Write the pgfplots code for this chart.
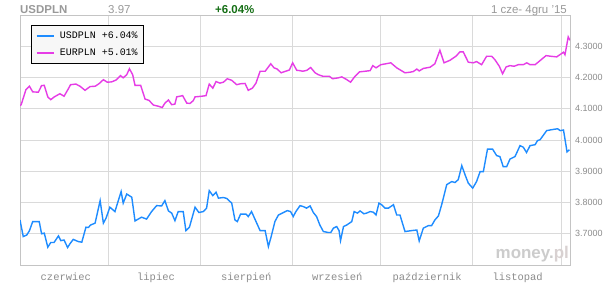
\documentclass[border=0pt]{standalone}
\usepackage{fontspec}
\setmainfont{Liberation Sans}
\newfontfamily\monofont{Liberation Mono}
\usepackage{pgfplots}
\pgfplotsset{compat=1.18}
\definecolor{usd}{RGB}{30,140,255}
\definecolor{eur}{RGB}{230,60,230}
\definecolor{gridc}{RGB}{218,218,218}
\definecolor{axc}{RGB}{196,196,196}
\definecolor{txt}{RGB}{140,140,140}
\definecolor{grn}{RGB}{20,110,20}
\begin{document}
\begin{tikzpicture}
\useasboundingbox (0,0) rectangle (605bp,284bp);
\fill[white] (0,0) rectangle (605bp,284bp);
\begin{axis}[name=ax, at={(20bp,19bp)}, anchor=south west,
  scale only axis, width=550bp, height=250bp,
  xmin=0, xmax=186, ymin=3.6, ymax=4.4,
  axis line style={draw=axc, line width=0.8bp},
  xtick={15.5,46,76.5,107.3,137.7,168.3},
  xticklabels={czerwiec,lipiec,sierpień,wrzesień,październik,listopad},
  minor xtick={30,61,92,122,153,183},
  xminorgrids, ymajorgrids,
  ytick={3.7,3.8,3.9,4.0,4.1,4.2,4.3},
  grid style={draw=gridc, line width=0.8bp},
  minor grid style={draw=gridc, line width=0.8bp},
  major tick length=0pt, minor tick length=0pt,
  yticklabel pos=right,
  /pgf/number format/assume math mode=true,
  yticklabel={\pgfmathprintnumber[fixed,fixed zerofill,precision=4]{\tick}},
  yticklabel style={font=\fontsize{9}{10}\selectfont, text=txt, anchor=west, inner sep=0pt, xshift=5bp},
  xticklabel style={font=\fontsize{10.5}{12}\selectfont\monofont, text=txt, anchor=north, inner sep=0pt, yshift=-8bp},
  legend style={at={(0.02,0.96)}, anchor=north west, draw=black, line width=0.8bp, fill=black!3,
    font=\fontsize{10}{12}\selectfont\monofont, inner xsep=4bp, inner ysep=4.5bp, row sep=5bp},
  legend cell align=left,
  legend image code/.code={\draw[#1, line width=2.6bp] (0bp,0bp) -- (17bp,0bp);},
]
\addplot[usd, line width=1.4bp] coordinates {
(0,3.744) (1.1,3.691) (2.3,3.696) (3.2,3.710) (4.3,3.739) (6.5,3.739) (7.3,3.700) (8.2,3.702)
(9.4,3.657) (10.4,3.672) (11.5,3.672) (13.0,3.693) (13.8,3.678) (14.9,3.680) (16.1,3.656)
(16.9,3.668) (18.0,3.682) (19.7,3.675) (20.9,3.673) (22.3,3.721) (23.1,3.720) (23.9,3.728)
(25.4,3.734) (27.1,3.806) (28.2,3.734) (29.1,3.750) (30.4,3.785) (32.1,3.771) (34.2,3.835)
(34.9,3.798) (36.1,3.827) (37.8,3.817) (38.9,3.741) (40.0,3.747) (41.1,3.753) (42.8,3.747)
(44.5,3.771) (46.2,3.790) (47.9,3.789) (49.0,3.806) (50.2,3.773) (51.3,3.766) (52.4,3.742)
(53.5,3.771) (55.2,3.771) (56.1,3.710) (57.3,3.721) (59.2,3.785) (60.5,3.768) (62.0,3.771)
(63.1,3.782) (64.0,3.838) (65.2,3.822) (66.3,3.833) (67.1,3.814) (68.8,3.816) (69.9,3.813)
(71.6,3.798) (72.7,3.744) (73.5,3.739) (74.6,3.763) (76.4,3.763) (77.2,3.755) (78.3,3.771)
(81.2,3.710) (82.9,3.710) (84.0,3.659) (84.8,3.686) (86.2,3.739) (87.4,3.760) (89.1,3.768)
(90.4,3.774) (91.5,3.771) (92.4,3.755) (93.3,3.771) (94.7,3.790) (95.8,3.787) (96.9,3.782)
(98.1,3.789) (99.2,3.768) (100.3,3.755) (101.4,3.728) (102.6,3.707) (104.3,3.704) (105.1,3.704)
(106.0,3.718) (107.1,3.723) (107.9,3.710) (108.4,3.678) (109.4,3.723) (110.5,3.728) (112.2,3.739)
(113.0,3.771) (114.1,3.766) (115.0,3.773) (116.3,3.764) (117.2,3.766) (118.4,3.771) (119.5,3.769)
(120.4,3.760) (121.4,3.798) (122.3,3.793) (123.4,3.782) (124.6,3.782) (126.3,3.793) (127.4,3.760)
(128.5,3.760) (130.2,3.707) (132.4,3.710) (134.2,3.712) (135.0,3.677) (136.4,3.718) (138.1,3.726)
(139.2,3.726) (140.3,3.744) (141.5,3.757) (142.6,3.793) (144.3,3.857) (146.0,3.867) (147.1,3.864)
(148.2,3.873) (149.4,3.918) (150.5,3.889) (151.6,3.862) (153.1,3.846) (154.4,3.867) (155.6,3.899)
(156.7,3.899) (158.1,3.971) (159.8,3.971) (161.2,3.950) (162.3,3.947) (163.4,3.915) (164.6,3.915)
(165.7,3.939) (167.4,3.947) (169.1,3.982) (170.2,3.977) (171.3,3.960) (172.5,3.982) (174.2,3.985)
(175.0,3.998) (175.9,4.001) (178.1,4.030) (179.8,4.033) (181.8,4.036) (182.7,4.030) (183.8,4.032)
(185.0,3.962) (185.8,3.969)
};
\addlegendentry{\hspace{3bp}USDPLN +6.04\%\hspace{8bp}}
\addplot[eur, line width=1.4bp] coordinates {
(0,4.110) (0.4,4.113) (2.0,4.161) (3.2,4.172) (4.3,4.154) (6.2,4.153) (7.3,4.174) (8.2,4.175)
(9.4,4.138) (10.4,4.129) (11.6,4.138) (13.5,4.148) (14.9,4.140) (16.3,4.163) (17.1,4.177)
(18.9,4.179) (20.3,4.172) (22.0,4.159) (23.7,4.171) (25.4,4.172) (26.7,4.180) (28.2,4.193)
(29.5,4.185) (31.0,4.186) (32.5,4.192) (34.0,4.206) (34.9,4.199) (36.1,4.209) (37.0,4.228)
(38.1,4.209) (38.9,4.175) (40.8,4.175) (42.3,4.131) (43.6,4.127) (45.1,4.112) (46.8,4.108)
(48.1,4.104) (49.0,4.118) (50.2,4.128) (51.3,4.113) (52.4,4.115) (53.0,4.138) (55.0,4.142)
(56.4,4.118) (57.5,4.117) (58.6,4.126) (59.2,4.138) (61.4,4.140) (62.9,4.142) (64.0,4.179)
(65.2,4.166) (66.3,4.187) (67.6,4.182) (68.8,4.185) (70.1,4.196) (71.6,4.191) (73.3,4.177)
(74.6,4.180) (76.1,4.181) (77.2,4.159) (78.6,4.166) (79.8,4.182) (81.2,4.220) (82.9,4.220)
(84.8,4.244) (85.9,4.231) (87.0,4.227) (88.3,4.215) (89.8,4.220) (91.1,4.224) (92.2,4.247)
(93.6,4.223) (94.7,4.222) (95.6,4.220) (97.0,4.223) (98.3,4.232) (99.8,4.215) (100.9,4.209)
(102.4,4.204) (104.6,4.204) (105.7,4.196) (107.7,4.199) (108.8,4.202) (110.2,4.195) (111.8,4.185)
(113.3,4.204) (114.8,4.218) (116.7,4.220) (118.4,4.222) (119.3,4.238) (120.4,4.231) (122.0,4.241)
(123.8,4.244) (125.4,4.247) (127.4,4.231) (130.2,4.215) (131.9,4.217) (133.0,4.219) (134.2,4.227)
(135.0,4.221) (136.4,4.229) (138.7,4.233) (140.3,4.244) (142.0,4.287) (143.4,4.247) (145.4,4.255)
(147.4,4.268) (148.8,4.282) (149.9,4.282) (151.6,4.249) (153.3,4.247) (154.4,4.251) (156.1,4.241)
(157.8,4.268) (159.5,4.268) (160.6,4.257) (162.1,4.236) (163.2,4.212) (164.4,4.234) (165.7,4.238)
(167.1,4.236) (168.5,4.241) (170.2,4.241) (171.4,4.247) (172.5,4.241) (174.2,4.241) (175.6,4.252)
(177.9,4.270) (179.5,4.268) (181.5,4.266) (183.2,4.277) (183.8,4.281) (184.3,4.273) (185.4,4.330)
(186.0,4.319)
};
\addlegendentry{\hspace{3bp}EURPLN +5.01\%\hspace{8bp}}
\end{axis}
\node[anchor=south east, inner sep=0pt, font=\fontsize{17}{18}\selectfont\bfseries] at (569bp,22bp)
  {\textcolor{black!20}{money.}\textcolor{red!15!black!18}{pl}};
\node[anchor=base west, inner sep=0pt, font=\fontsize{11.5}{12}\selectfont\bfseries, text=black!40] at (20bp,270bp) {USDPLN};
\node[anchor=base west, inner sep=0pt, font=\fontsize{11.5}{12}\selectfont, text=black!40] at (108bp,270bp) {3.97};
\node[anchor=base west, inner sep=0pt, font=\fontsize{11.5}{12}\selectfont\bfseries, text=grn] at (215bp,270bp) {+6.04\%};
\node[anchor=base east, inner sep=0pt, font=\fontsize{11.5}{12}\selectfont, text=black!40] at (567bp,270bp) {1 cze- 4gru '15};
\end{tikzpicture}
\end{document}
